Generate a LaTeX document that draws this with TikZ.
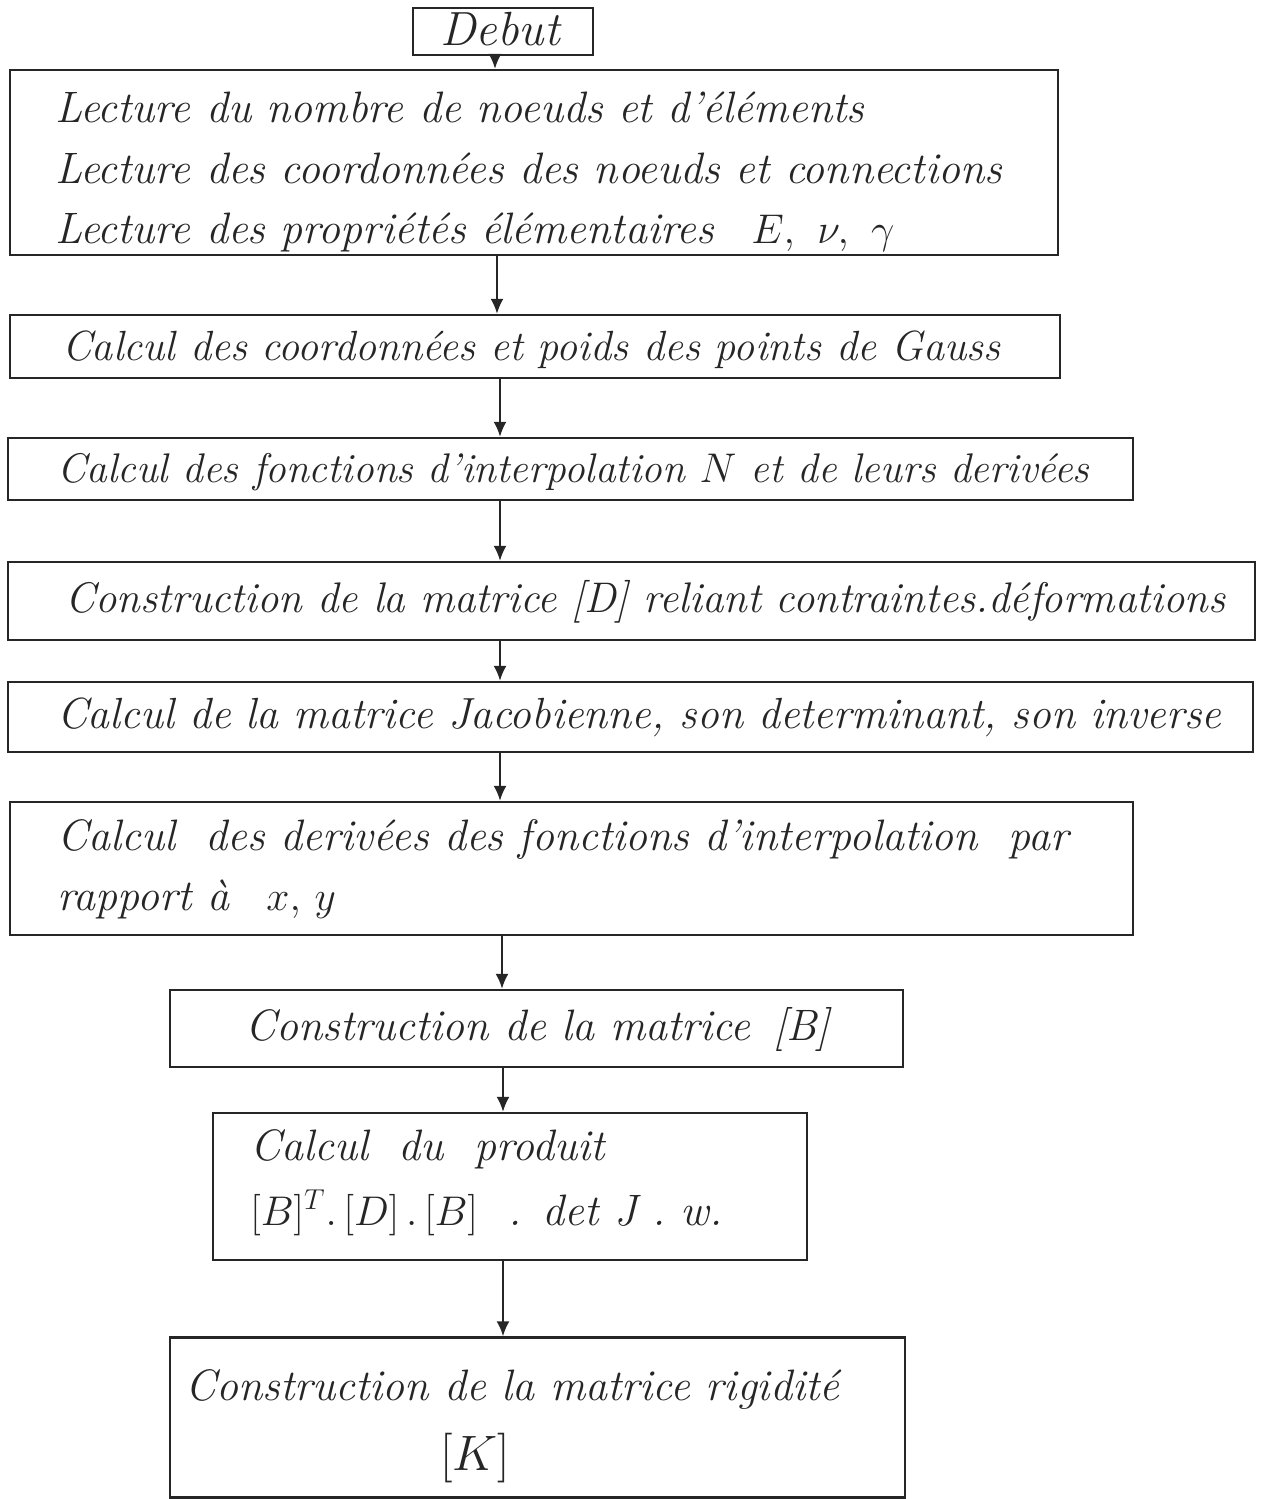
\documentclass[tikz,border=0pt]{standalone}
\usetikzlibrary{arrows.meta,calc}
\begin{document}
\begin{tikzpicture}[x=0.5pt,y=-0.5pt,
  box/.style={draw=black!85, line width=1.2pt, rectangle, inner sep=0pt},
  lbl/.style={anchor=base west, inner sep=0pt, font=\fontsize{22}{26}\selectfont\itshape, text=black!85},
  fs/.style={font=\fontsize{#1}{#1}\selectfont\itshape},
  arr/.style={draw=black!85, line width=1pt, -{Latex[length=7.5pt,width=6.5pt]}}]
\useasboundingbox (0,0) rectangle (1265,1499);
% boxes
\node[box, minimum width=90pt, minimum height=23.5pt] (deb) at (503,31.5) {};
\node[box, minimum width=524pt, minimum height=92.5pt] (b1) at (534,162.5) {};
\node[box, minimum width=525pt, minimum height=31.5pt] (b2) at (535,346.5) {};
\node[box, minimum width=562.5pt, minimum height=31pt] (b3) at (570.5,469) {};
\node[box, minimum width=623.5pt, minimum height=39pt] (b4) at (631.5,601) {};
\node[box, minimum width=622.5pt, minimum height=35pt] (b5) at (630.5,717) {};
\node[box, minimum width=561.5pt, minimum height=66.5pt] (b6) at (571.5,868.5) {};
\node[box, minimum width=366.5pt, minimum height=38.5pt] (b7) at (536.5,1028.5) {};
\node[box, minimum width=297pt, minimum height=73.5pt] (b8) at (510,1186.5) {};
\node[box, minimum width=367.5pt, minimum height=80pt] (b9) at (537.5,1417.5) {};
% texts
\node[lbl, fs=24, anchor=base] (tdeb) at (500,46) {Debut};
\node[lbl] (t1a) at (55,122) {Lecture du nombre de noeuds et d'éléments};
\node[lbl] (t1b) at (55,183) {Lecture des coordonnées des noeuds et connections};
\node[lbl] (t1c) at (55,243) {Lecture des propriétés élémentaires \enspace $E,\ \nu,\ \gamma$};
\node[lbl, fs=21.1] (t2) at (62,360) {Calcul des coordonnées et poids des points de Gauss};
\node[lbl, fs=20.7] (t3) at (57,482) {Calcul des fonctions d'interpolation $N$ et de leurs derivées};
\node[lbl, fs=21.4] (t4) at (65,612) {Construction de la matrice [D] reliant contraintes.déformations};
\node[lbl, fs=21.8] (t5) at (57,728) {Calcul de la matrice Jacobienne, son determinant, son inverse};
\node[lbl] (t6a) at (57,850) {Calcul \ des derivées des fonctions d'interpolation \ par};
\node[lbl] (t6b) at (57,910) {rapport à \enspace $x,\,y$};
\node[lbl] (t7) at (245,1040) {Construction de la matrice \,[B]};
\node[lbl] (t8a) at (250,1160) {Calcul \ du \ produit};
\node[lbl] (t8b) at (250,1225) {$[B]^{T}.\,[D]\,.\,[B]$ \ . det J . w.};
\node[lbl] (t9a) at (185,1400) {Construction de la matrice rigidité};
\node[lbl, fs=28, anchor=base] (t9b) at (475,1470) {$[K]$};
% arrows
\coordinate (x0) at (495,0);
\coordinate (x1) at (497,0);
\coordinate (x2) at (500,0);
\coordinate (x3) at (502,0);
\coordinate (x4) at (503,0);
\draw[arr] (x0 |- deb.south) -- (x0 |- b1.north);
\draw[arr] (x1 |- b1.south) -- (x1 |- b2.north);
\draw[arr] (x2 |- b2.south) -- (x2 |- b3.north);
\draw[arr] (x2 |- b3.south) -- (x2 |- b4.north);
\draw[arr] (x2 |- b4.south) -- (x2 |- b5.north);
\draw[arr] (x2 |- b5.south) -- (x2 |- b6.north);
\draw[arr] (x3 |- b6.south) -- (x3 |- b7.north);
\draw[arr] (x4 |- b7.south) -- (x4 |- b8.north);
\draw[arr] (x4 |- b8.south) -- (x4 |- b9.north);
\end{tikzpicture}
\end{document}
